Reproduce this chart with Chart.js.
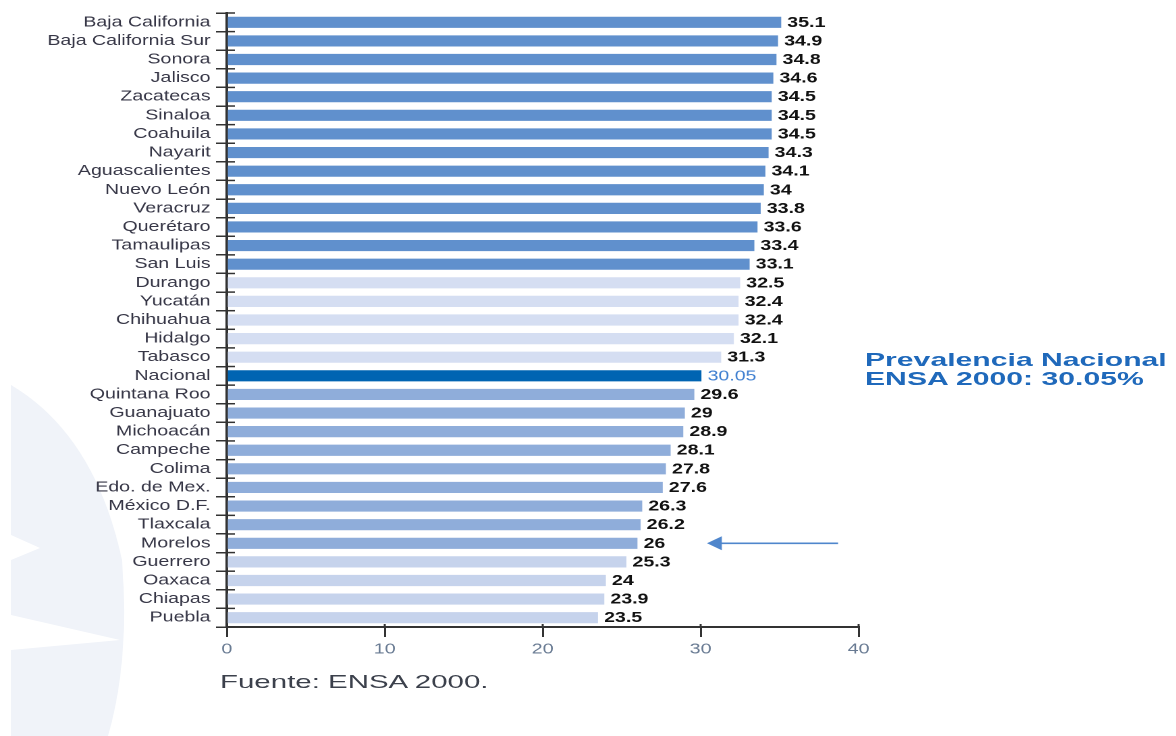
<!DOCTYPE html>
<html>
<head>
<meta charset="utf-8">
<title>Prevalencia por estado - ENSA 2000</title>
<script src="https://cdn.jsdelivr.net/npm/chart.js@4"></script>
<style>
  html, body { margin: 0; padding: 0; background: #fff; }
  body { width: 1176px; height: 736px; position: relative; overflow: hidden; font-family: "Liberation Sans", Arial, sans-serif; }
  #fondo { position: absolute; left: 0; top: 0; }
  #wrap { position: absolute; left: 0; top: 0; width: 871px; height: 736px; transform: scaleX(1.35); transform-origin: 0 0; }
  #nota { position: absolute; left: 865px; top: 350px; font-weight: bold; font-size: 18.5px; line-height: 19px; color: #1f69bb; transform: scaleX(1.63); transform-origin: 0 0; white-space: nowrap; }
  #fuente { position: absolute; left: 220px; top: 672px; font-size: 19px; line-height: 20px; color: #3c414c; transform: scaleX(1.55); transform-origin: 0 0; white-space: nowrap; }
</style>
</head>
<body>
<svg id="fondo" width="200" height="736">
  <path d="M11,385 Q95,435 122,560 Q130,660 108,736 L11,736 Z" fill="#f0f3f9"/>
  <path d="M11,535 L40,548 L11,560 Z" fill="#fff"/>
  <path d="M11,615 L120,640 L11,650 Z" fill="#fff"/>
</svg>
<div id="wrap"><canvas id="grafica" width="871" height="736"></canvas></div>
<div id="nota">Prevalencia Nacional<br>ENSA 2000: 30.05%</div>
<div id="fuente">Fuente: ENSA 2000.</div>
<script>
'use strict';

const estados = [
  'Baja California', 'Baja California Sur', 'Sonora', 'Jalisco', 'Zacatecas',
  'Sinaloa', 'Coahuila', 'Nayarit', 'Aguascalientes', 'Nuevo León',
  'Veracruz', 'Querétaro', 'Tamaulipas', 'San Luis', 'Durango',
  'Yucatán', 'Chihuahua', 'Hidalgo', 'Tabasco', 'Nacional',
  'Quintana Roo', 'Guanajuato', 'Michoacán', 'Campeche', 'Colima',
  'Edo. de Mex.', 'México D.F.', 'Tlaxcala', 'Morelos', 'Guerrero',
  'Oaxaca', 'Chiapas', 'Puebla'
];
const valores = [
  35.1, 34.9, 34.8, 34.6, 34.5,
  34.5, 34.5, 34.3, 34.1, 34,
  33.8, 33.6, 33.4, 33.1, 32.5,
  32.4, 32.4, 32.1, 31.3, 30.05,
  29.6, 29, 28.9, 28.1, 27.8,
  27.6, 26.3, 26.2, 26, 25.3,
  24, 23.9, 23.5
];
const ticksX = [0, 10, 20, 30, 40];

const azulMedio = '#6090cd';
const azulPalido = '#d5def2';
const azulNacional = '#0064b2';
const azulClaro = '#8fadda';
const azulPalido2 = '#c6d3ec';

const colores = estados.map((e, i) => {
  if (e === 'Nacional') return azulNacional;
  if (i < 14) return azulMedio;
  if (i < 19) return azulPalido;
  if (i < 29) return azulClaro;
  return azulPalido2;
});

Chart.defaults.font.family = '"Liberation Sans", Arial, sans-serif';

// etiquetas de valor al final de cada barra
const etiquetas = {
  id: 'etiquetas',
  afterDatasetsDraw(chart) {
    const ctx = chart.ctx;
    const meta = chart.getDatasetMeta(0);
    ctx.save();
    ctx.textBaseline = 'middle';
    ctx.textAlign = 'left';
    meta.data.forEach((bar, i) => {
      const nacional = estados[i] === 'Nacional';
      ctx.font = (nacional ? '' : 'bold ') + '14.5px "Liberation Sans", Arial, sans-serif';
      ctx.fillStyle = nacional ? '#3f7fd0' : '#111111';
      ctx.fillText(String(valores[i]), bar.x + 4.5, bar.y + 0.5);
    });
    ctx.restore();
  }
};

// marcas del eje y que cruzan hacia dentro, y la flecha hacia Morelos
const extras = {
  id: 'extras',
  afterDraw(chart) {
    const ctx = chart.ctx;
    const y = chart.scales.y;
    const x = chart.scales.x;
    const paso = (y.bottom - y.top) / estados.length;
    ctx.save();
    ctx.strokeStyle = '#333';
    ctx.lineWidth = 1.5;
    for (let i = 0; i <= estados.length; i++) {
      const py = y.top + i * paso;
      ctx.beginPath();
      ctx.moveTo(x.left, py);
      ctx.lineTo(x.left + 6, py);
      ctx.stroke();
    }
    ticksX.forEach(v => {
      const px = x.getPixelForValue(v);
      ctx.beginPath();
      ctx.moveTo(px, y.bottom - 3);
      ctx.lineTo(px, y.bottom);
      ctx.stroke();
    });

    const fy = y.getPixelForValue(estados.indexOf('Morelos'));
    const punta = x.getPixelForValue(30.4);
    const cola = x.getPixelForValue(38.7);
    ctx.strokeStyle = '#4f86cc';
    ctx.fillStyle = '#4f86cc';
    ctx.lineWidth = 1.6;
    ctx.beginPath();
    ctx.moveTo(cola, fy);
    ctx.lineTo(punta + 8, fy);
    ctx.stroke();
    ctx.beginPath();
    ctx.moveTo(punta, fy);
    ctx.lineTo(punta + 11, fy - 7);
    ctx.lineTo(punta + 11, fy + 7);
    ctx.closePath();
    ctx.fill();
    ctx.restore();
  }
};

new Chart(document.getElementById('grafica'), {
  type: 'bar',
  data: {
    labels: estados,
    datasets: [{
      data: valores,
      backgroundColor: colores,
      borderWidth: 0,
      categoryPercentage: 1,
      barPercentage: 0.6
    }]
  },
  options: {
    indexAxis: 'y',
    responsive: false,
    animation: false,
    devicePixelRatio: 2,
    layout: { padding: { top: 13, right: 235, bottom: 0, left: 0 } },
    plugins: {
      legend: { display: false },
      tooltip: { enabled: false }
    },
    scales: {
      x: {
        min: 0,
        max: 40,
        afterBuildTicks: scale => { scale.ticks = ticksX.map(v => ({ value: v })); },
        afterFit: scale => { scale.height = 109; },
        ticks: { color: '#687a92', font: { size: 14.5 }, padding: 4 },
        grid: { drawOnChartArea: false, drawTicks: true, tickLength: 10, color: '#333', lineWidth: 1.5 },
        border: { display: true, color: '#333', width: 2 }
      },
      y: {
        afterFit: scale => { scale.width = 168; },
        ticks: { color: '#363646', font: { size: 14.5 }, padding: 4, autoSkip: false },
        grid: { offset: true, drawOnChartArea: false, drawTicks: true, tickLength: 8, color: '#333', lineWidth: 1.5 },
        border: { display: true, color: '#333', width: 2 }
      }
    }
  },
  plugins: [etiquetas, extras]
});
</script>
</body>
</html>
